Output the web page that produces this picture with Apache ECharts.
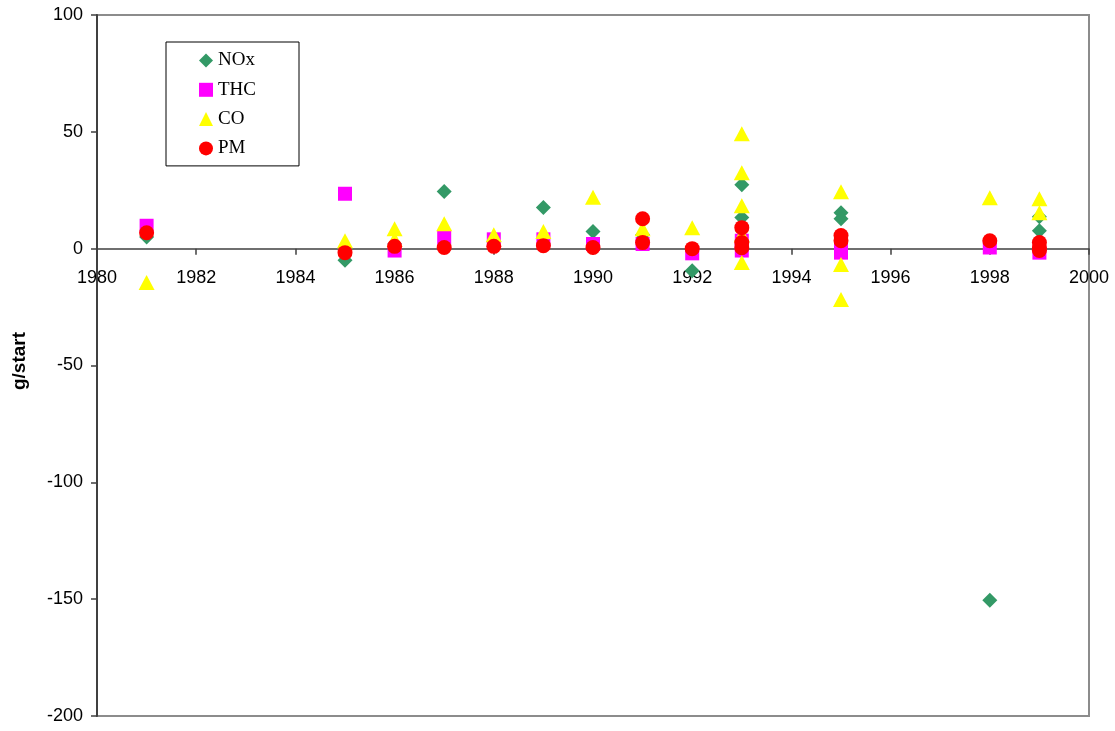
<!DOCTYPE html>
<html>
<head>
<meta charset="utf-8">
<script src="https://cdn.jsdelivr.net/npm/echarts@6/dist/echarts.min.js"></script>
<style>
html,body{margin:0;padding:0;background:#fff;}
#chart{width:1115px;height:731px;}
</style>
</head>
<body>
<div id="chart"></div>
<script>
const seriesNames = ['NOx', 'THC', 'CO', 'PM'];
const noxData = [[1981,5],[1985,-5],[1986,2],[1987,24.5],[1988,3],[1989,17.6],[1990,7.3],[1991,6],[1992,-9.5],[1993,27.4],[1993,13.3],[1993,3],[1995,15.4],[1995,12.8],[1998,-150.5],[1999,13.7],[1999,7.7]];
const thcData = [[1981,9.8],[1985,23.5],[1986,-0.8],[1987,4.7],[1988,4],[1989,4],[1990,2],[1991,2],[1992,-2],[1993,3.4],[1993,-0.8],[1995,-1.7],[1995,1],[1998,0.5],[1999,-1.7]];
const coData = [[1981,-14.5],[1985,3.4],[1986,8.5],[1986,4],[1987,10.7],[1988,6],[1989,7.3],[1990,22],[1991,8.5],[1992,9],[1993,49.2],[1993,32.5],[1993,18.4],[1993,6],[1993,-5.9],[1995,24.4],[1995,-6.8],[1995,-21.8],[1998,21.8],[1999,21.4],[1999,15.4]];
const pmData = [[1981,6.8],[1985,-1.7],[1986,1],[1987,0.5],[1988,1],[1989,1.3],[1990,0.5],[1991,12.8],[1991,2.6],[1992,0],[1993,9],[1993,2.6],[1993,0.4],[1995,5.6],[1995,3.4],[1998,3.4],[1999,2.6],[1999,0.4],[1999,-0.8]];
const xMin = 1980, xMax = 2000, xStep = 2;
const yMin = -200, yMax = 100, yStep = 50;
const yTitle = 'g/start';

const gridTop = 15, gridBottom = 15, gridH = 731 - gridTop - gridBottom;
const zeroOffset = -gridH * (0 - yMin) / (yMax - yMin);

const chart = echarts.init(document.getElementById('chart'), null, {renderer: 'canvas'});
const axisFont = {fontFamily: 'Liberation Sans, Arial, sans-serif', fontSize: 18, color: '#000'};
chart.setOption({
  animation: false,
  backgroundColor: '#fff',
  grid: {left: 97, top: gridTop, right: 26, bottom: gridBottom, containLabel: false, outerBoundsMode: 'none', show: true, borderColor: '#8c8c8c', borderWidth: 2, backgroundColor: 'transparent'},
  xAxis: {
    type: 'value', min: xMin, max: xMax, interval: xStep, position: 'bottom', offset: zeroOffset,
    axisLine: {show: true, onZero: false, lineStyle: {color: '#404040', width: 1.5}},
    axisTick: {show: true, inside: false, length: 6, lineStyle: {color: '#404040', width: 1.5}},
    axisLabel: Object.assign({margin: 20, showMinLabel: true, showMaxLabel: true, formatter: v => String(v)}, axisFont),
    splitLine: {show: false}
  },
  yAxis: {
    type: 'value', min: yMin, max: yMax, interval: yStep,
    axisLine: {show: true, onZero: false, lineStyle: {color: '#404040', width: 2}},
    axisTick: {show: true, inside: false, length: 6, lineStyle: {color: '#404040', width: 1.5}},
    axisLabel: Object.assign({margin: 14, formatter: v => String(v)}, axisFont),
    splitLine: {show: false}
  },
  legend: {
    orient: 'vertical', left: 166, top: 42,
    padding: [9, 43, 8, 33],
    itemWidth: 14, itemHeight: 14, itemGap: 10.3,
    borderColor: '#000', borderWidth: 1,
    backgroundColor: '#fff',
    textStyle: {fontFamily: 'Liberation Serif, Times New Roman, serif', fontSize: 19, color: '#000'},
    data: seriesNames
  },
  graphic: [{
    type: 'text', x: 20, y: 361, rotation: Math.PI / 2,
    style: {text: yTitle, fontFamily: 'Liberation Sans, Arial, sans-serif', fontWeight: 'bold', fontSize: 19, fill: '#000', textAlign: 'center', textVerticalAlign: 'middle'}
  }],
  series: [
    {name: seriesNames[0], type: 'scatter', symbol: 'diamond', symbolSize: [15, 15], data: noxData, itemStyle: {color: '#339966', opacity: 1}},
    {name: seriesNames[1], type: 'scatter', symbol: 'rect', symbolSize: [14, 14], data: thcData, itemStyle: {color: '#ff00ff', opacity: 1}},
    {name: seriesNames[2], type: 'scatter', symbol: 'triangle', symbolSize: [16, 15], data: coData, itemStyle: {color: '#ffff00', opacity: 1}},
    {name: seriesNames[3], type: 'scatter', symbol: 'circle', symbolSize: 15, data: pmData, itemStyle: {color: '#ff0000', opacity: 1}}
  ]
});
</script>
</body>
</html>
